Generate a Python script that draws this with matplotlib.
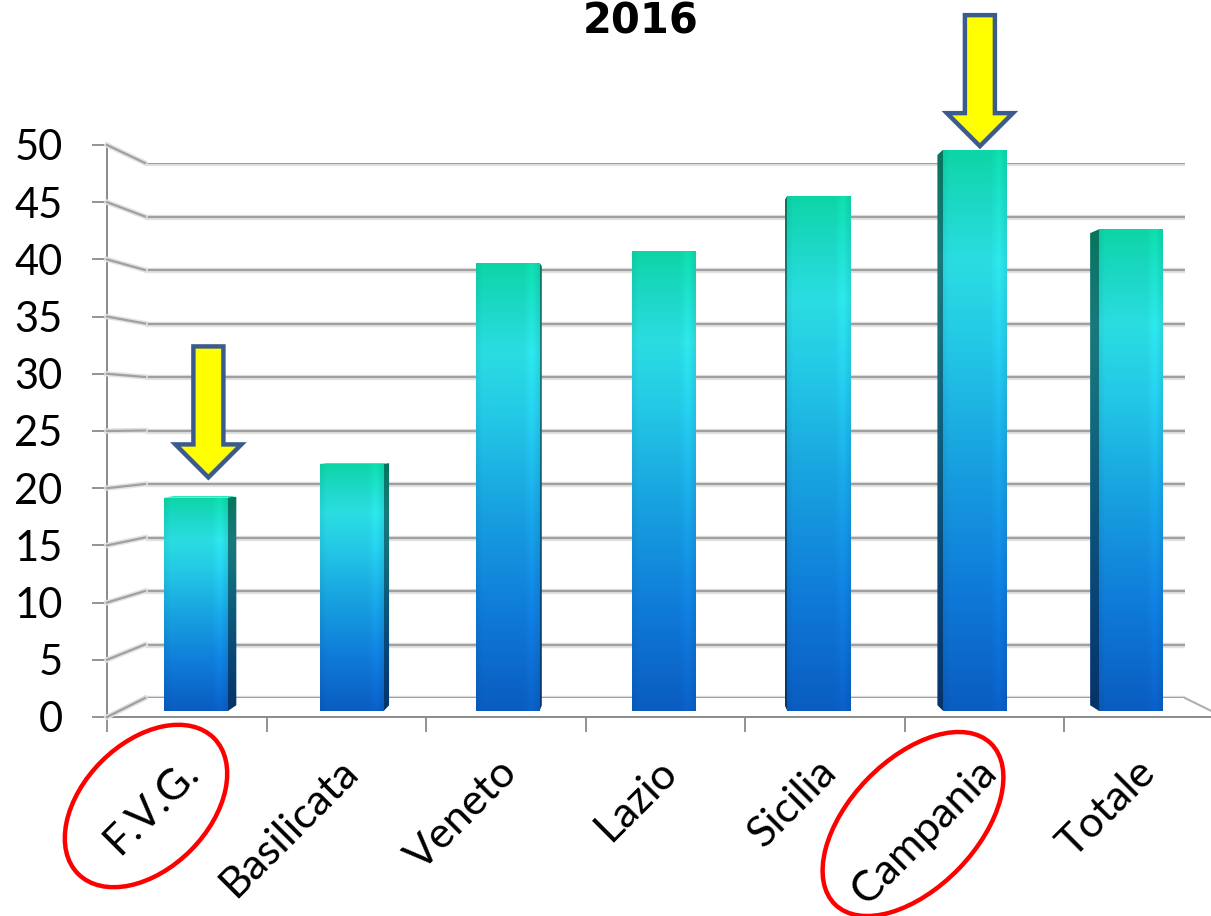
import numpy as np
import matplotlib
matplotlib.use('Agg')
import matplotlib.pyplot as plt
from matplotlib.colors import LinearSegmentedColormap
from matplotlib.patches import Polygon, Ellipse
from matplotlib.lines import Line2D
from matplotlib.transforms import ScaledTranslation

# dati
regioni = ['F.V.G.', 'Basilicata', 'Veneto', 'Lazio', 'Sicilia', 'Campania', 'Totale']
valori = [19.0, 22.0, 39.9, 41.0, 45.9, 50.0, 42.9]
tacche_y = list(range(0, 55, 5))
titolo = '2016'
# frecce: (posizione categoria, valore della punta)
frecce = [(0.08, 20.8), (5.03, 50.3)]

W, H = 1211, 916
fig = plt.figure(figsize=(W / 100, H / 100), dpi=100)
fig.patch.set_facecolor('white')


def box(x0, x1, y0, y50):
    # riquadro in pixel (origine in alto a sinistra) -> frazioni della figura
    return [x0 / W, (H - y0) / H, (x1 - x0) / W, (y0 - y50) / H]


# tre piani della prospettiva: parete di fondo, piano delle barre, piano frontale
ax_back = fig.add_axes(box(145, 1185, 698, 163))
ax_bar = fig.add_axes(box(118, 1209, 711, 149.5))
ax_front = fig.add_axes(box(107, 1223.5, 717, 145))
for a in (ax_back, ax_bar, ax_front):
    a.set_xlim(-0.5, 6.5)
    a.set_ylim(0, 50)
    a.patch.set_alpha(0)
ax_back.axis('off')
ax_bar.axis('off')

# griglia sulla parete di fondo
ax_back.hlines(tacche_y, -0.5, 6.5, color='#e2e2e2', lw=3.8)
ax_back.hlines(tacche_y, -0.5, 6.5, color='#a0a0a0', lw=1.6)


def to_fig(ax, pts):
    return fig.transFigure.inverted().transform(ax.transData.transform(pts))


# linee della parete laterale e bordo destro del pavimento
for v in tacche_y:
    p = np.vstack([to_fig(ax_front, [(-0.5, v)]), to_fig(ax_back, [(-0.5, v)])])
    fig.add_artist(Line2D(p[:, 0], p[:, 1], transform=fig.transFigure,
                          color='#e2e2e2', lw=3.8, zorder=0.5))
    fig.add_artist(Line2D(p[:, 0], p[:, 1], transform=fig.transFigure,
                          color='#a0a0a0', lw=1.6, zorder=0.6))
p = np.vstack([to_fig(ax_back, [(6.5, 0)]), to_fig(ax_front, [(6.5, 0)])])
fig.add_artist(Line2D(p[:, 0], p[:, 1], transform=fig.transFigure,
                      color='#b0b0b0', lw=1.5, zorder=0.6))

# barre con sfumatura verticale
cmap = LinearSegmentedColormap.from_list('barre', [
    (0.00, '#0a5cc0'), (0.22, '#0f7bd9'), (0.45, '#18a2e0'),
    (0.66, '#24c9e6'), (0.80, '#2bdde2'), (0.91, '#1bd8c4'), (1.00, '#0dd5a6')])
rgb = cmap(np.linspace(0, 1, 256))[:, :3]
prof = np.interp(np.linspace(0, 1, 64), [0, 0.1, 0.75, 0.88, 1], [0.95, 1.0, 1.0, 1.06, 0.97])
img_front = np.clip(rgb[:, None, :] * prof[None, :, None], 0, 1)
img_side = rgb[:, None, :] * 0.55
img_top = np.clip(rgb[-1:, None, :] * 1.05, 0, 1)

vp = np.array([2.913, 25.6])   # punto di fuga nel piano delle barre
r = 0.98
larghezza = 0.41

x = np.arange(len(regioni))
barre = ax_bar.bar(x, valori, width=larghezza, color='none', zorder=3)
for b, h in zip(barre, valori):
    x0, x1 = b.get_x(), b.get_x() + b.get_width()
    im = ax_bar.imshow(img_front, origin='lower', extent=(x0, x1, 0, h),
                       aspect='auto', zorder=3, interpolation='bilinear')
    im.set_clip_path(b)
    fronte = np.array([(x0, 0), (x0, h), (x1, h), (x1, 0)])
    retro = vp + (fronte - vp) * r
    facce = []
    if x1 < vp[0]:
        facce.append(np.array([fronte[3], fronte[2], retro[2], retro[3]]))
    elif x0 > vp[0]:
        facce.append(np.array([fronte[0], fronte[1], retro[1], retro[0]]))
    for f in facce:
        poly = Polygon(f, closed=True, facecolor='none', edgecolor='none')
        ax_bar.add_patch(poly)
        im = ax_bar.imshow(img_side, origin='lower',
                           extent=(f[:, 0].min(), f[:, 0].max(), 0, h),
                           aspect='auto', zorder=2.9, interpolation='bilinear')
        im.set_clip_path(poly)
    if h < vp[1]:
        top = np.array([fronte[1], fronte[2], retro[2], retro[1]])
        ax_bar.add_patch(Polygon(top, closed=True, facecolor=img_top[0, 0],
                                 edgecolor='none', zorder=2.95))
ax_bar.set_xlim(-0.5, 6.5)
ax_bar.set_ylim(0, 50)

# assi frontali
for s in ('top', 'right'):
    ax_front.spines[s].set_visible(False)
for s in ('left', 'bottom'):
    ax_front.spines[s].set_color('#8a8a8a')
    ax_front.spines[s].set_linewidth(1.4)
ax_front.set_yticks(tacche_y)
ax_front.tick_params(axis='y', direction='out', length=11, width=1.3,
                     color='#8a8a8a', labelsize=30, pad=21)
ax_front.set_xticks(x)
ax_front.set_xticklabels(regioni, rotation=45, ha='right', va='top',
                         rotation_mode='anchor')
ax_front.set_xticks(np.arange(-0.5, 7, 1), minor=True)
ax_front.tick_params(axis='x', which='major', length=0, labelsize=31, pad=14)
ax_front.tick_params(axis='x', which='minor', direction='out', length=11,
                     width=1.3, color='#8a8a8a')
sposta = ScaledTranslation(-0.08, -0.16, fig.dpi_scale_trans)
for t in ax_front.get_xticklabels():
    t.set_fontfamily('Lato')
    t.set_transform(t.get_transform() + sposta)
for t in ax_front.get_yticklabels():
    t.set_fontfamily('Lato')

# titolo
fig.text(641 / W, 1 - 33 / H, titolo, ha='center', va='baseline',
         fontsize=30, fontweight='bold', family='DejaVu Sans')

# frecce gialle
for fx, fy in frecce:
    tx, ty = ax_bar.transData.transform((fx, fy))
    sw, hw, hl, L = 15, 33, 33, 131
    pts = np.array([(tx, ty), (tx - hw, ty + hl), (tx - sw, ty + hl), (tx - sw, ty + L),
                    (tx + sw, ty + L), (tx + sw, ty + hl), (tx + hw, ty + hl)])
    pts = fig.transFigure.inverted().transform(pts)
    fig.add_artist(Polygon(pts, closed=True, transform=fig.transFigure,
                           facecolor='#ffff00', edgecolor='#3b5b8c', lw=3.2,
                           joinstyle='miter', zorder=5))

# cerchi rossi sulle etichette
for (cx, cy), a, b, ang in [((146, 806), 96, 63, 45), ((913, 824), 112, 64, 46)]:
    fig.add_artist(Ellipse((cx / 100, (H - cy) / 100), 2 * a / 100, 2 * b / 100,
                           angle=ang, transform=fig.dpi_scale_trans,
                           facecolor='none', edgecolor='#ff0000', lw=3.2, zorder=5))

fig.savefig('out.png', dpi=100)
